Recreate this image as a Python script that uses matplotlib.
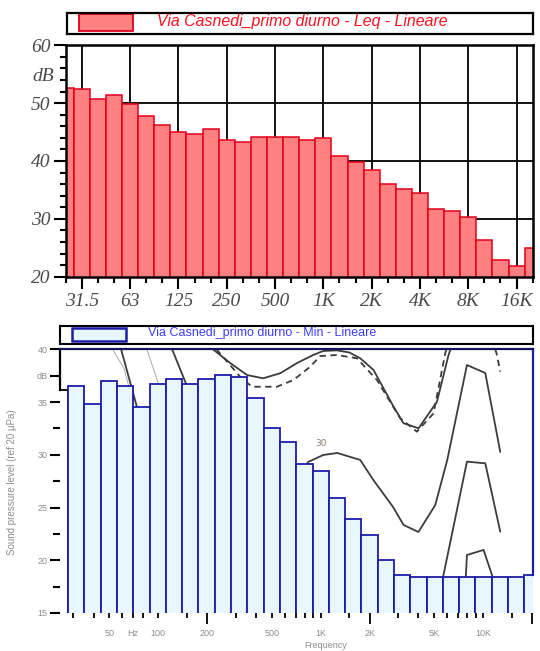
import numpy as np
import matplotlib
matplotlib.use("Agg")
import matplotlib.pyplot as plt
from matplotlib.patches import Rectangle
from matplotlib.ticker import NullFormatter
from matplotlib.transforms import blended_transform_factory

# Third-octave band centres (nominal, Hz)
bands = [25, 31.5, 40, 50, 63, 80, 100, 125, 160, 200, 250, 315, 400, 500, 630,
         800, 1000, 1250, 1600, 2000, 2500, 3150, 4000, 5000, 6300, 8000,
         10000, 12500, 16000, 20000]

# Leq spectrum, linear weighting (dB)
leq_db = [52.7, 52.5, 50.7, 51.4, 49.9, 47.7, 46.3, 45.0, 44.6, 45.6, 43.6, 43.2,
          44.2, 44.2, 44.2, 43.6, 44.0, 40.8, 39.8, 38.4, 36.1, 35.1, 34.4, 31.7,
          31.4, 30.4, 26.4, 22.9, 21.8, 25.0]

# Minimum spectrum, linear weighting (dB)
min_db = [36.1, 36.5, 34.8, 37.0, 36.5, 34.5, 36.7, 37.2, 36.7, 37.2, 37.6, 37.4,
          35.4, 32.5, 31.2, 29.1, 28.5, 25.9, 23.9, 22.4, 20.0, 18.6, 18.4, 18.4,
          18.4, 18.4, 18.4, 18.4, 18.4, 18.6]

top_title = "Via Casnedi_primo diurno - Leq - Lineare"
bottom_title = "Via Casnedi_primo diurno - Min - Lineare"

octave_ticks = [31.5, 63, 125, 250, 500, 1000, 2000, 4000, 8000, 16000]
octave_labels = ["31.5", "63", "125", "250", "500", "1K", "2K", "4K", "8K", "16K"]
top_level_ticks = [20, 30, 40, 50, 60]

freq_major = [200, 2000, 20000]
freq_major_labels = ["200", "2K", ""]
freq_minor = [30, 40, 50, 60, 70, 80, 100, 150, 300, 400, 500, 600, 700, 800, 900,
              1000, 1500, 3000, 4000, 5000, 6000, 7000, 8000, 9000, 10000, 15000]
freq_minor_labels = ["", "", "50", "", "Hz", "", "100", "", "", "", "500", "", "",
                     "", "", "1K", "", "", "", "5K", "", "", "", "", "10K", ""]
level_ticks = [15, 20, 25, 30, 35, 37.5, 40]
level_labels = ["15", "20", "25", "30", "35", "dB", "40"]
level_minor = [17.5, 22.5, 27.5, 32.5]

# Reference curves drawn behind the minimum spectrum (Hz, dB)
curve_upper_f = [217, 277, 352, 442, 563, 716, 899, 1036, 1258, 1500, 1752, 2115,
                 2810, 3237, 4005, 5200, 6130, 6300]
curve_upper_db = [40.0, 38.7, 37.56, 37.25, 37.73, 38.7, 39.46, 39.84, 39.9, 39.7,
                  39.15, 38.04, 34.56, 32.99, 32.51, 35.03, 39.46, 40.0]
curve_dashed_f = [228, 319, 377, 537, 680, 862, 993, 1258, 1671, 2220, 3090, 3914,
                  4955, 5849, 5940]
curve_dashed_db = [40.0, 37.4, 36.45, 36.45, 37.09, 38.35, 39.36, 39.46, 39.15,
                   37.09, 33.46, 32.19, 33.93, 39.62, 40.0]
curve_dashed_hi_f = [11900, 12176, 12764]
curve_dashed_hi_db = [40.0, 39.46, 37.88]
curve_30_f = [800, 838, 1036, 1265, 1752, 2110, 2790, 3237, 4000, 5078, 6018,
              7958, 10318, 12764]
curve_30_db = [28.9, 29.32, 29.98, 30.17, 29.51, 27.61, 25.05, 23.35, 22.68, 25.24,
               29.51, 38.51, 37.75, 30.27]
curve_mid_f = [5600, 7958, 10318, 12764]
curve_mid_db = [18.0, 29.35, 29.19, 22.71]
curve_low_f = [7800, 7958, 10070, 11345, 11600]
curve_low_db = [18.0, 20.5, 20.98, 18.61, 18.0]
curve_lf_dark = [([59, 74.7, 77.2], [40.0, 34.25, 33.3]),
                 ([121.6, 148.4, 155], [40.0, 36.71, 36.0])]
curve_lf_thin = [([52.3, 61.5, 66], [40.0, 38.18, 36.4]),
                 ([85, 100.3, 104], [40.0, 36.71, 35.8])]
curve_label = ("30", 1008, 31.1)


def band_centre(f):
    n = np.round(3 * np.log2(np.asarray(f, dtype=float) / 1000.0))
    return 1000.0 * 2.0 ** (n / 3.0)


centres = band_centre(bands)
lo_edges = centres * 2 ** (-1 / 6)
hi_edges = centres * 2 ** (1 / 6)
widths = hi_edges - lo_edges
x_limits = (centres[0], centres[-1])

W, H = 540, 651
fig = plt.figure(figsize=(W / 100, H / 100), dpi=100)


def fig_rect(x0, y0, x1, y1):
    return [x0 / W, 1 - y1 / H, (x1 - x0) / W, (y1 - y0) / H]


serif_it = dict(family="Liberation Serif", style="italic")

# ---------------- upper chart: Leq ----------------
ax1 = fig.add_axes(fig_rect(65.7, 45.3, 532.7, 276.7))
ax1.set_xscale("log")
ax1.set_xlim(*x_limits)
ax1.set_ylim(20, 60)
ax1.set_axisbelow(True)
ax1.bar(lo_edges, np.array(leq_db), width=widths, align="edge", bottom=0,
        color="#ff8080", edgecolor="#e2001a", linewidth=1.1, zorder=1)
ax1.set_xticks(band_centre(octave_ticks), octave_labels)
ax1.set_xticks(centres, minor=True)
ax1.xaxis.set_minor_formatter(NullFormatter())
ax1.set_yticks(top_level_ticks, [str(v) for v in top_level_ticks])
ax1.set_yticks(np.arange(20, 61, 2), minor=True)
ax1.yaxis.set_minor_formatter(NullFormatter())
ax1.grid(True, which="major", color="black", linewidth=1.3)
ax1.tick_params(which="major", direction="out", length=8.5, width=1.5,
                labelsize=14, labelcolor="#4a4a4a", pad=2.5)
ax1.tick_params(which="minor", direction="out", length=4.3, width=1.5)
ax1.tick_params(axis="x", which="major", pad=3.5)
for lab in ax1.get_xticklabels() + ax1.get_yticklabels():
    lab.set_fontfamily("Liberation Serif")
    lab.set_fontstyle("italic")
for sp in ax1.spines.values():
    sp.set_linewidth(1.8)
    sp.set_color("black")
ax1.text(-0.026, 54.6, "dB", transform=blended_transform_factory(ax1.transAxes, ax1.transData),
         ha="right", va="center", fontsize=14, color="#4a4a4a", **serif_it)

# legend box for upper chart
lg1 = fig.add_axes(fig_rect(66.7, 12.7, 532.7, 34.3))
lg1.set_xlim(0, 1)
lg1.set_ylim(0, 1)
lg1.set_xticks([])
lg1.set_yticks([])
for sp in lg1.spines.values():
    sp.set_linewidth(1.6)
lg1.add_patch(Rectangle((0.027, 0.15), 0.116, 0.81, facecolor="#ff8080",
                        edgecolor="#e2001a", linewidth=1.3))
lg1.text(0.193, 0.6, top_title, ha="left", va="center", fontsize=11.4,
         color="#ff1020", family="Liberation Sans", style="italic")

# ---------------- lower chart: minimum ----------------
ax2 = fig.add_axes(fig_rect(60.0, 349.3, 532.5, 613.0))
ax2.set_xscale("log")
ax2.set_xlim(*x_limits)
ax2.set_ylim(15, 40)

dark = dict(color="#3c3c3c", linewidth=1.3, zorder=2, solid_capstyle="round")
ax2.plot(curve_upper_f, curve_upper_db, **dark)
ax2.plot(curve_dashed_f, curve_dashed_db, linestyle=(0, (3.5, 2.5)), **dark)
ax2.plot(curve_dashed_hi_f, curve_dashed_hi_db, linestyle=(0, (3.5, 2.5)), **dark)
ax2.plot(curve_30_f, curve_30_db, **dark)
ax2.plot(curve_mid_f, curve_mid_db, **dark)
ax2.plot(curve_low_f, curve_low_db, **dark)
for fx, fy in curve_lf_dark:
    ax2.plot(fx, fy, **dark)
for fx, fy in curve_lf_thin:
    ax2.plot(fx, fy, color="#a8a8a8", linewidth=0.7, zorder=2)
ax2.text(curve_label[1], curve_label[2], curve_label[0], fontsize=6.5,
         color="#8a8070", ha="center", va="center", zorder=2)

face = ["white"] + ["#e8f6ff"] * (len(bands) - 1)
edge = ["black"] + ["#1c1ca8"] * (len(bands) - 1)
ax2.bar(lo_edges, np.array(min_db), width=widths, align="edge", bottom=0,
        color=face, edgecolor=edge, linewidth=1.3, zorder=3)

ax2.spines["bottom"].set_visible(False)
ax2.spines["left"].set_bounds(min_db[0], 40)
ax2.spines["right"].set_bounds(min_db[-1], 40)
ax2.spines["left"].set_color("black")
ax2.spines["right"].set_color("#1c1ca8")
ax2.spines["top"].set_color("#14145a")
for sp in ax2.spines.values():
    sp.set_linewidth(1.6)
    sp.set_zorder(4)

ax2.set_yticks(level_ticks, level_labels)
ax2.set_yticks(level_minor, minor=True)
ax2.yaxis.set_minor_formatter(NullFormatter())
ax2.tick_params(axis="y", which="major", direction="out", length=7, width=1.5,
                labelsize=6.5, labelcolor="#8c8c8c", pad=2)
ax2.tick_params(axis="y", which="minor", direction="out", length=5, width=1.5)
ax2.set_xticks(freq_major, freq_major_labels)
ax2.set_xticks(freq_minor, freq_minor_labels, minor=True)
ax2.tick_params(axis="x", which="major", direction="out", length=8, width=1.3,
                labelsize=6.5, labelcolor="#8c8c8c", pad=3.5)
ax2.tick_params(axis="x", which="minor", direction="out", length=3.8, width=1.3,
                labelsize=6.5, labelcolor="#8c8c8c", pad=7.5)
for lab in (ax2.get_xticklabels() + ax2.get_xticklabels(minor=True)
            + ax2.get_yticklabels()):
    lab.set_fontfamily("Liberation Sans")

fig.text(325.6 / W, 1 - 645 / H, "Frequency", ha="center", va="center",
         fontsize=6.5, color="#8c8c8c", family="Liberation Sans")
fig.text(12 / W, 1 - 482 / H, "Sound pressure level (ref 20 \u00b5Pa)", rotation=90,
         ha="center", va="center", fontsize=7, color="#8c8c8c", family="Liberation Sans")

# legend box for lower chart
lg2 = fig.add_axes(fig_rect(60.3, 325.5, 533.0, 343.5))
lg2.set_xlim(0, 1)
lg2.set_ylim(0, 1)
lg2.set_xticks([])
lg2.set_yticks([])
for sp in lg2.spines.values():
    sp.set_linewidth(1.5)
lg2.add_patch(Rectangle((0.024, 0.14), 0.114, 0.72, facecolor="#e8f6ff",
                        edgecolor="#1c1ca8", linewidth=1.8))
lg2.text(0.1855, 0.56, bottom_title, ha="left", va="center", fontsize=9.0,
         color="#3c3cff", family="Liberation Sans")

fig.savefig("out.png", dpi=100)
